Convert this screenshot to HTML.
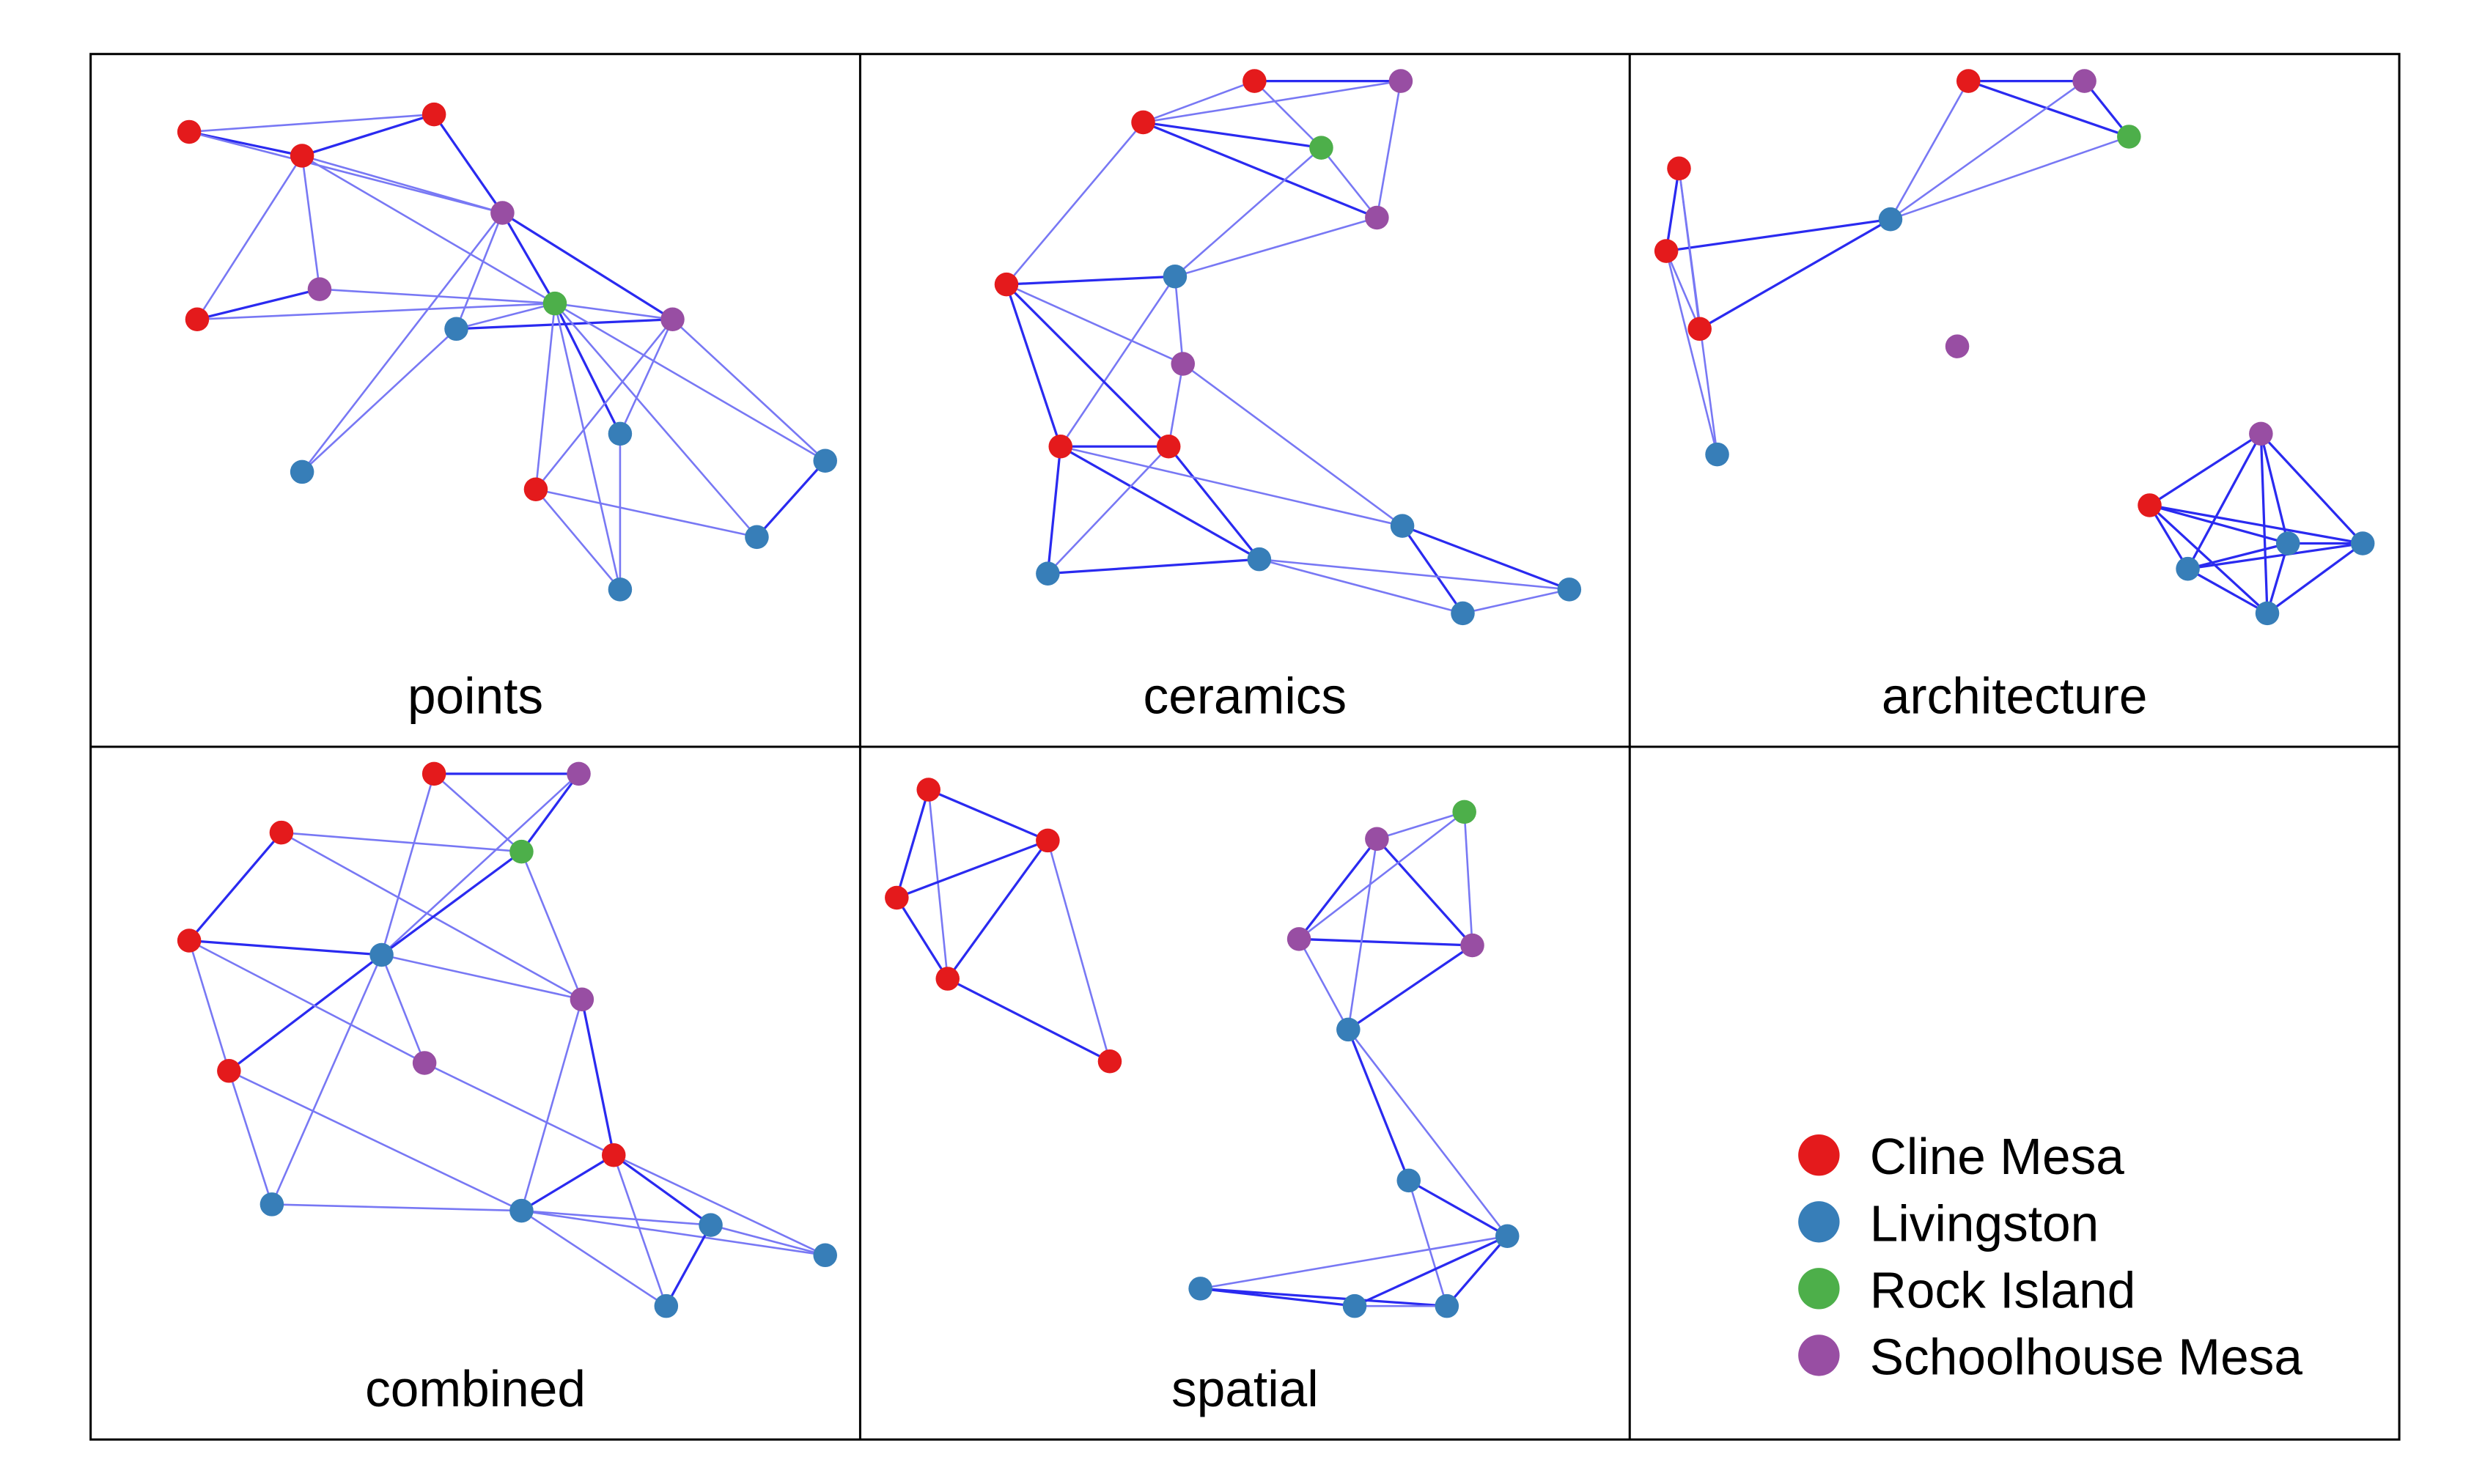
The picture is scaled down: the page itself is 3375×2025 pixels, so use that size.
<!DOCTYPE html>
<html><head><meta charset="utf-8"><style>
html,body{margin:0;padding:0;background:#fff;width:3375px;height:2025px;overflow:hidden}
svg{display:block}
text{font-family:"Liberation Sans",Arial,sans-serif;fill:#000}
</style></head><body>
<svg id="chart" width="3375" height="2025" viewBox="0 0 1556 934" preserveAspectRatio="none" xmlns="http://www.w3.org/2000/svg"></svg>
<script>
const groupNames = ["Cline Mesa","Livingston","Rock Island","Schoolhouse Mesa"];
const groupColors = ["#e41a1c","#377eb8","#4daf4a","#984ea3"];
const panelTitles = ["points","ceramics","architecture","combined","spatial"];
// node data (R=Cline Mesa 0, L=Livingston 1, G=Rock Island 2, P=Schoolhouse Mesa 3), local coords within panel
const p1x=[62,216,133,259,144,67,292,230,366,333,133,280,462,419,333];
const p1y=[49,38,64,100,148,167,157,173,167,239,263,274,256,304,337];
const p1g=[0,0,0,3,3,0,2,1,3,1,1,0,1,1,1];
const p1e=[[0,1,0],[0,2,1],[1,2,1],[1,3,1],[2,3,0],[0,3,0],[2,6,0],[2,5,0],[2,4,0],[4,5,1],[4,6,0],[5,6,0],[3,6,1],[3,8,1],[3,7,0],[3,10,0],[7,10,0],[7,6,0],[7,8,1],[6,8,0],[6,9,1],[6,11,0],[6,14,0],[6,13,0],[6,12,0],[8,11,0],[8,9,0],[8,12,0],[9,14,0],[11,13,0],[11,14,0],[12,13,1]];
const p2x=[248,340,178,290,325,92,198,203,126,194,341,251,118,446,379];
const p2y=[17,17,43,59,103,145,140,195,247,247,297,318,327,337,352];
const p2g=[0,3,0,2,3,0,1,3,0,0,1,1,1,1,1];
const p2e=[[0,1,1],[0,2,0],[2,1,0],[0,3,0],[2,3,1],[2,4,1],[3,4,0],[1,4,0],[3,6,0],[6,4,0],[2,5,0],[5,6,1],[6,7,0],[6,8,0],[5,7,0],[5,8,1],[5,9,1],[8,9,1],[7,9,0],[8,12,1],[8,11,1],[9,11,1],[12,9,0],[12,11,1],[8,10,0],[7,10,0],[10,13,1],[10,14,1],[11,13,0],[11,14,0],[14,13,0]];
const p3x=[213,286,314,31,23,164,44,206,55,397,327,414,461,351,401];
const p3y=[17,17,52,72,124,104,173,184,252,239,284,308,308,324,352];
const p3g=[0,3,2,0,0,1,0,3,1,3,0,1,1,1,1];
const p3e=[[0,1,1],[0,2,1],[1,2,1],[0,5,0],[1,5,0],[2,5,0],[3,4,1],[3,6,0],[4,6,0],[4,5,1],[6,5,1],[4,8,0],[3,8,0],[9,10,1],[9,13,1],[9,11,1],[9,14,1],[9,12,1],[10,11,1],[10,12,1],[10,13,1],[10,14,1],[13,11,1],[13,12,1],[13,14,1],[11,14,1],[12,14,1],[11,12,1]];
const p4x=[216,307,120,271,62,183,309,210,87,329,114,271,390,462,362];
const p4y=[17,17,54,66,122,131,159,199,204,257,288,292,301,320,352];
const p4g=[0,3,0,2,0,1,3,3,0,0,1,1,1,1,1];
const p4e=[[0,1,1],[0,3,0],[1,3,1],[0,5,0],[1,5,0],[2,3,0],[2,6,0],[2,4,1],[4,5,1],[3,5,1],[3,6,0],[5,6,0],[5,8,1],[4,7,0],[4,8,0],[5,7,0],[5,10,0],[6,9,1],[6,11,0],[7,9,0],[8,11,0],[8,10,0],[10,11,0],[9,11,1],[9,12,1],[9,13,0],[9,14,0],[11,12,0],[11,13,0],[11,14,0],[12,14,1],[12,13,0]];
const p5x=[43,118,23,55,157,380,325,276,385,307,345,407,214,311,369];
const p5y=[27,59,95,146,198,41,58,121,125,178,273,308,341,352,352];
const p5g=[0,0,0,0,0,2,3,3,3,1,1,1,1,1,1];
const p5e=[[0,1,1],[0,2,1],[0,3,0],[1,2,1],[1,3,1],[1,4,0],[2,3,1],[3,4,1],[6,5,0],[5,8,0],[6,7,1],[6,8,1],[5,7,0],[7,8,1],[7,9,0],[6,9,0],[8,9,1],[9,10,1],[9,11,0],[10,11,1],[10,14,0],[11,12,0],[11,13,1],[11,14,1],[12,13,1],[12,14,1],[13,14,0]];

const NS="http://www.w3.org/2000/svg";
const svg=document.getElementById('chart');
function mk(tag,attrs,parent){const e=document.createElementNS(NS,tag);for(const k in attrs)e.setAttribute(k,attrs[k]);(parent||svg).appendChild(e);return e;}
const L=57,T=34,PW=(1509-57)/3,PH=(906-34)/2;
const panels=[[p1x,p1y,p1g,p1e],[p2x,p2y,p2g,p2e],[p3x,p3y,p3g,p3e],[p4x,p4y,p4g,p4e],[p5x,p5y,p5g,p5e]];
function sx(i,v){return L+(i%3)*PW+v;}
function sy(i,v){return T+Math.floor(i/3)*PH+v;}
panels.forEach((p,i)=>{
  const g=mk('g',{});
  
  
  const [xs,ys,gs,es]=p;
  es.forEach(e=>{
    const ln=mk('line',{x1:sx(i,xs[e[0]]),y1:sy(i,ys[e[0]]),x2:sx(i,xs[e[1]]),y2:sy(i,ys[e[1]]),stroke:e[2]?'#2a2af0':'#7878f4','stroke-width':e[2]?1.5:1.2},g);
    
    
  });
  xs.forEach((x,k)=>{
    const c=mk('ellipse',{cx:sx(i,x),cy:sy(i,ys[k]),rx:7.5,ry:7.5,fill:groupColors[gs[k]]},g);
    
    
  });
  const t=mk('text',{x:L+(i%3)*PW+PW/2,y:T+Math.floor(i/3)*PH+415,'text-anchor':'middle','font-size':32},g);
  t.textContent=panelTitles[i];
  
  
});
// frame
const fr=mk('g',{fill:'none',stroke:'#000','stroke-width':1.4});


mk('rect',{x:L,y:T,width:1509-57,height:906-34},fr);
mk('line',{x1:L+PW,y1:T,x2:L+PW,y2:906},fr);
mk('line',{x1:L+2*PW,y1:T,x2:L+2*PW,y2:906},fr);
mk('line',{x1:L,y1:T+PH,x2:1509,y2:T+PH},fr);
// legend
const lg=mk('g',{});


groupNames.forEach((n,k)=>{
  const c=mk('ellipse',{cx:1144,cy:727+k*42,rx:13,ry:13,fill:groupColors[k]},lg);
  
  
  const t=mk('text',{x:1176,y:739+k*42,'font-size':32},lg);
  t.textContent=n;
  
  
});
</script>
</body></html>
